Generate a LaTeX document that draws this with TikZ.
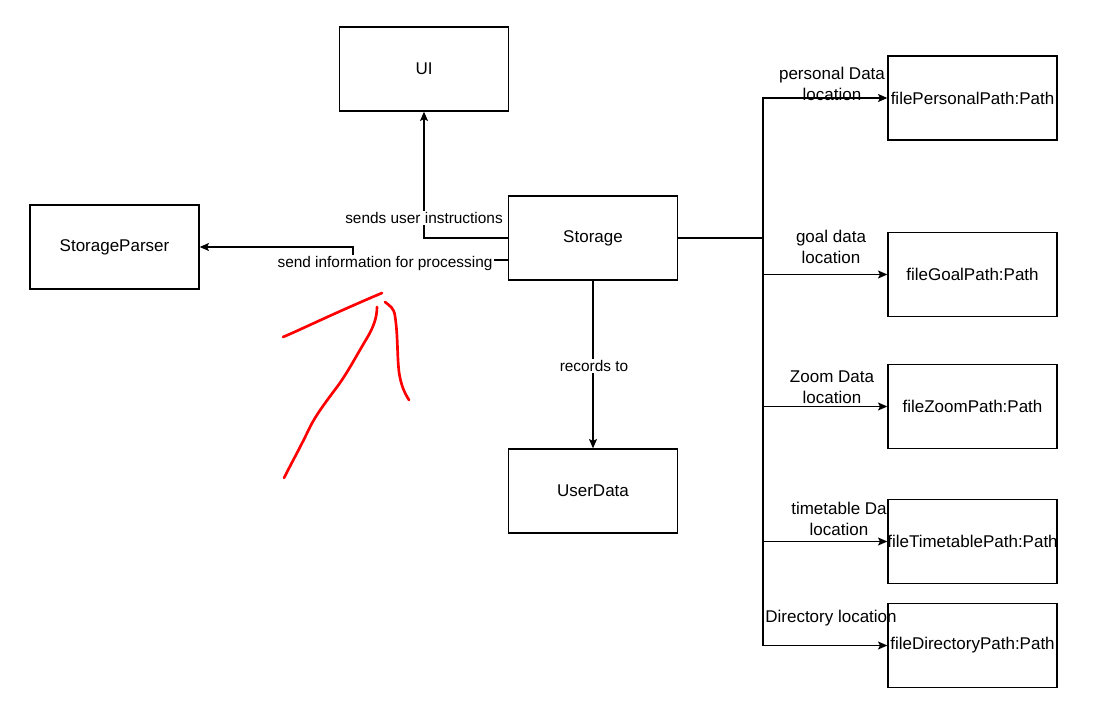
\documentclass[tikz,border=0pt]{standalone}
\usepackage{fontspec}
\setmainfont{Liberation Sans}
\usetikzlibrary{calc,arrows.meta}
\begin{document}
\begin{tikzpicture}[x=0.75pt,y=-0.75pt,
  box/.style={draw,line width=1pt,minimum width=126.75pt,minimum height=63pt,inner sep=0pt,
    font=\fontsize{12.75}{15}\selectfont},
  pathbox/.style={draw,line width=1pt,minimum width=126.75pt,minimum height=63pt,inner sep=0pt},
  conn/.style={line width=1pt},
  arr/.style={conn,-{Stealth[length=7pt,width=6pt,inset=1.5pt]}},
  elabel/.style={fill=white,inner sep=1pt,font=\fontsize{11.55}{14}\selectfont},
  blabel/.style={align=center,inner sep=0pt,font=\fontsize{12.75}{15.75}\selectfont},
  pen/.style={red,line width=2pt,line cap=round,line join=round}]
\useasboundingbox (0,0) rectangle (1118,713);

% main components
\node[box] (ui) at (424,69) {UI};
\node[box] (sp) at (114.5,247) {StorageParser};
\node[box] (st) at (593,238) {Storage};
\node[box] (ud) at (593,491) {UserData};

% file path components
\node[pathbox,label={[blabel]center:filePersonalPath:Path}] (fp) at (972.5,98) {};
\node[pathbox,label={[blabel]center:fileGoalPath:Path}] (fg) at (972.5,274.5) {};
\node[pathbox,label={[blabel]center:fileZoomPath:Path}] (fz) at (972.5,406.5) {};
\node[pathbox,label={[blabel]center:fileTimetablePath:Path}] (ft) at (972.5,541.5) {};
\node[pathbox,label={[blabel]center:fileDirectoryPath:Path}] (fd) at (972.5,645.5) {};

% Storage to UI
\draw[arr] (st.west) -| (ui.south);
\node[elabel] (l1) at (424,218) {sends user instructions};

% Storage to StorageParser
\coordinate (spb) at ($(st.west)+(0,22)$);
\draw[arr] (spb) -- (353,260) |- (sp.east);
\node[elabel] (l2) at (385,264) {send information for processing};

% Storage to UserData
\draw[arr] (st.south) -- (ud.north);
\node[elabel] (l3) at (594,366) {records to};

% Storage to file paths
\coordinate (tr) at (763,238);
\draw[conn] (st.east) -- (tr);
\draw[arr] (tr) |- (fp.west);
\draw[arr] (tr) |- (fg.west);
\draw[arr] (tr) |- (fz.west);
\draw[arr] (tr) |- (ft.west);
\draw[arr] (tr) |- (fd.west);

\node[blabel] (b1) at (832,84) {personal Data\\location};
\node[blabel] (b2) at (831,247) {goal data\\location};
\node[blabel] (b3) at (832,387) {Zoom Data\\location};
\node[blabel] (b4) at (839,519) {timetable Da\\location};
\node[blabel] (b5) at (831,618) {Directory location};

% hand-drawn red marks
\draw[pen] (283,337) .. controls (300,330) and (330,315) .. (382,293);
\draw[pen] (377,307) .. controls (377,318) and (373,328) .. (367,338)
  .. controls (355,358) and (348,372) .. (337,387)
  .. controls (325,403) and (316,415) .. (310,427)
  .. controls (300,448) and (292,462) .. (284,478);
\draw[pen] (385,302) .. controls (390,306) and (394,308) .. (395,316)
  .. controls (398,335) and (397,355) .. (399,372)
  .. controls (401,385) and (404,392) .. (409,400);
\end{tikzpicture}
\end{document}
